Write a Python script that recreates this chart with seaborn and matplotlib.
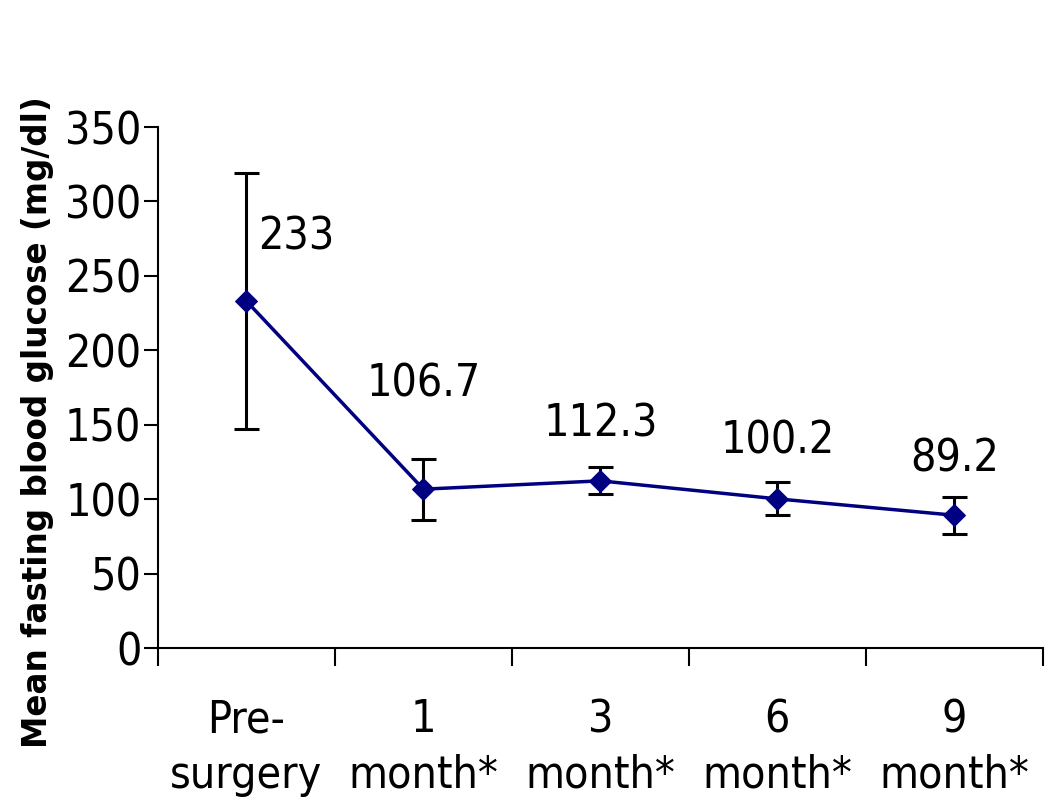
import matplotlib
matplotlib.use("Agg")
import matplotlib.pyplot as plt
import seaborn as sns
import pandas as pd
import numpy as np

categories = ["Pre-\nsurgery", "1\nmonth*", "3\nmonth*", "6\nmonth*", "9\nmonth*"]
means = [233, 106.7, 112.3, 100.2, 89.2]
errors = [86, 20.5, 9, 11, 12.5]
labels = ["233", "106.7", "112.3", "100.2", "89.2"]
yticks = [0, 50, 100, 150, 200, 250, 300, 350]

sns.set_style("white")
plt.rcParams["font.family"] = ["DejaVu Sans"]
plt.rcParams["text.color"] = "black"
plt.rcParams["xtick.color"] = "black"
plt.rcParams["ytick.color"] = "black"
plt.rcParams["axes.labelcolor"] = "black"

fig = plt.figure(figsize=(10.5, 8.09), dpi=100)
ax = fig.add_axes([0.1505, 0.199, 0.993 - 0.1505, 0.843 - 0.199])

pos = np.arange(len(categories))
df = pd.DataFrame({"pos": pos, "mean": means})

ax.errorbar(pos, means, yerr=errors, fmt="none", ecolor="black",
            elinewidth=2.2, capsize=9, capthick=2.2, zorder=2)
sns.lineplot(data=df, x="pos", y="mean", ax=ax, color="#000080",
             linewidth=2.5, marker="D", markersize=11, markeredgecolor="#000080",
             zorder=3)

offsets = [(50, 64), (0, 105), (0, 57), (0, 58), (0, 56)]
for x, y, lab, off in zip(pos, means, labels, offsets):
    ax.annotate(lab, (x, y), xytext=off, textcoords="offset pixels",
                ha="center", va="center", fontsize=32, color="black",
                fontstretch="condensed", family="DejaVu Sans")

ax.set_xlim(-0.5, len(categories) - 0.5)
ax.set_ylim(0, 350)
ax.set_yticks(yticks)
ax.set_yticklabels([str(t) for t in yticks], fontsize=32, fontstretch="condensed")
ax.set_xticks(np.arange(-0.5, len(categories), 1.0))
ax.set_xticklabels([])
ax.set_xticks(pos, minor=True)
ax.set_xticklabels(categories, minor=True, fontsize=32, fontstretch="condensed",
                   linespacing=1.38)
ax.tick_params(axis="x", which="major", direction="out", length=13, width=1.5,
               color="black", bottom=True)
ax.tick_params(axis="x", which="minor", length=0, pad=36, bottom=True)
ax.tick_params(axis="y", direction="out", length=10, width=1.5, color="black",
               left=True, pad=2)

for s in ["top", "right"]:
    ax.spines[s].set_visible(False)
for s in ["left", "bottom"]:
    ax.spines[s].set_color("black")
    ax.spines[s].set_linewidth(1.5)

ax.set_xlabel("")
ax.set_ylabel("Mean fasting blood glucose (mg/dl)", fontsize=23.5,
              fontweight="bold", color="black")
ax.yaxis.set_label_coords(-0.118, 0.434)

fig.savefig("out.png", dpi=100)
